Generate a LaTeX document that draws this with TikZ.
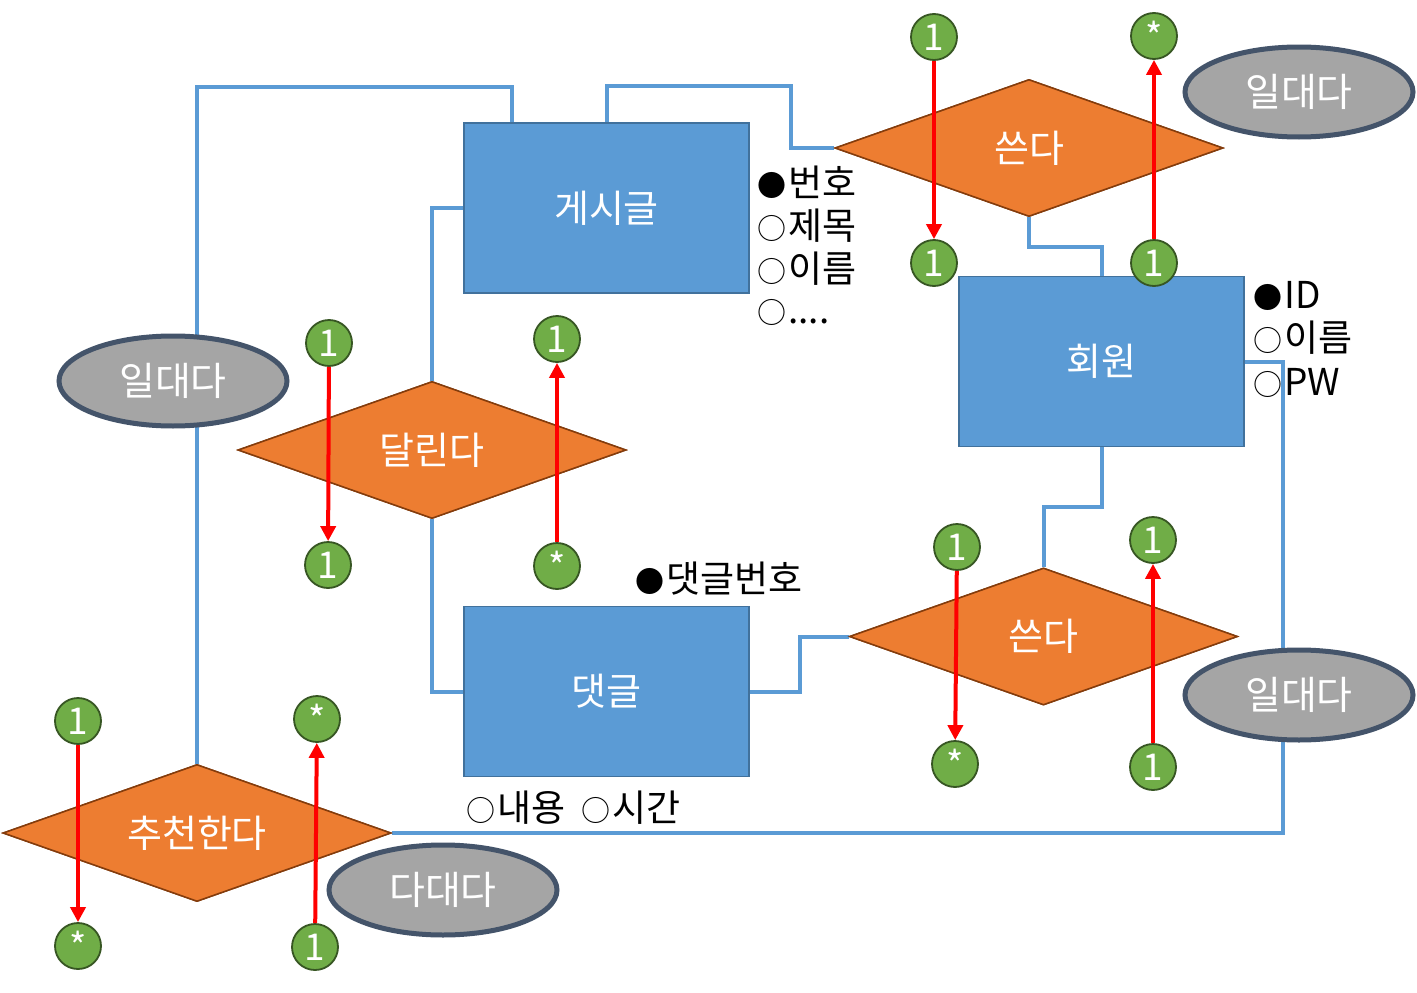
\documentclass[tikz,border=0pt]{standalone}
\usepackage{fontspec}
\setmainfont{Noto Sans CJK KR}
\usetikzlibrary{shapes.geometric,arrows.meta,calc}
\definecolor{boxfill}{HTML}{5B9BD5}
\definecolor{boxline}{HTML}{41719C}
\definecolor{dfill}{HTML}{ED7D31}
\definecolor{dline}{HTML}{843C0C}
\definecolor{efill}{HTML}{A5A5A5}
\definecolor{eline}{HTML}{44546A}
\definecolor{cfill}{HTML}{70AD47}
\definecolor{cline}{HTML}{375623}
\definecolor{connc}{HTML}{5B9BD5}
\newcommand{\mybul}[1]{{\fontsize{29}{43}\selectfont #1}\kern2pt}
\tikzset{
  entity/.style={draw=boxline, fill=boxfill, line width=1.5pt, minimum width=285pt, minimum height=170pt, inner sep=0pt, text=white, font=\fontsize{38}{44}\selectfont},
  rel/.style={diamond, draw=dline, fill=dfill, line width=1.5pt, minimum width=388pt, minimum height=137pt, inner sep=0pt, aspect=2.8, text=white, font=\fontsize{38}{44}\selectfont},
  card/.style={ellipse, draw=eline, fill=efill, line width=5pt, minimum width=228pt, minimum height=90pt, inner sep=0pt, text=white, font=\fontsize{39}{44}\selectfont},
  mult/.style={circle, draw=cline, fill=cfill, line width=1.8pt, minimum size=46pt, inner sep=0pt, text=white, font=\fontsize{37}{40}\selectfont},
  conn/.style={draw=connc, line width=4pt},
  arr/.style={draw=red, line width=4pt, -{Triangle[width=15pt,length=15pt]}},
  attr/.style={anchor=base west, inner sep=0pt, font=\fontsize{37}{43}\selectfont}
}
\begin{document}
\begin{tikzpicture}[x=1pt,y=-1pt]
\useasboundingbox[fill=white] (0,0) rectangle (1417,993);
\coordinate (postA) at (512,123);
\node[entity] (post) at (606.5,208) {게시글};
\node[entity] (reply) at (606.5,691.5) {댓글};
\node[entity] (member) at (1101.5,361.5) {회원};
\node[rel] (write1) at (1029,148) {쓴다};
\node[rel] (write2) at (1043.5,636.5) {쓴다};
\node[rel] (dal) at (432,450) {달린다};
\node[rel] (rec) at (197,833) {추천한다};
% connectors
\draw[conn] (postA) -- ++(0,-36) -| (rec.north);
\draw[conn] (post.north) -- ++(0,-36) -| ([xshift=-43pt]write1.west) -- (write1.west);
\draw[conn] (write1.south) -- ++(0,30) -| (member.north);
\draw[conn] (post.west) -| (dal.north);
\draw[conn] (dal.south) |- (reply.west);
\draw[conn] (reply.east) -- ++(50,0) |- (write2.west);
\draw[conn] (write2.north) -- ++(0,-60) -| (member.south);
\draw[conn] (member.east) -- ++(38,0) |- (rec.east);
% shapes redrawn on top of the connectors
\node[entity] at (post) {게시글};
\node[entity] at (reply) {댓글};
\node[entity] at (member) {회원};
\node[rel] at (write1) {쓴다};
\node[rel] at (write2) {쓴다};
\node[rel] at (dal) {달린다};
\node[rel] at (rec) {추천한다};
% cardinality ellipses
\node[card] (e1) at (1299,92) {일대다};
\node[card] (e2) at (173,381) {일대다};
\node[card] (e3) at (1299,695) {일대다};
\node[card] (e4) at (443,890) {다대다};
% multiplicity circles
\node[mult] (a1) at (934,37) {1};
\node[mult] (a2) at (934,263) {1};
\node[mult] (b1) at (1154,36) {*};
\node[mult] (b2) at (1154,263) {1};
\node[mult] (d1) at (329,343) {1};
\node[mult] (d2) at (328,565) {1};
\node[mult] (f1) at (557,339) {1};
\node[mult] (f2) at (557,566) {*};
\node[mult] (g1) at (957,547) {1};
\node[mult] (g2) at (955,764) {*};
\node[mult] (h1) at (1153,540) {1};
\node[mult] (h2) at (1153,767) {1};
\node[mult] (k1) at (78,721) {1};
\node[mult] (k2) at (78,946) {*};
\node[mult] (m1) at (317,719) {*};
\node[mult] (m2) at (315,947) {1};
% arrows
\draw[arr] (a1) -- (a2);
\draw[arr] (b2) -- (b1);
\draw[arr] (d1) -- (d2);
\draw[arr] (f2) -- (f1);
\draw[arr] (g1) -- (g2);
\draw[arr] (h2) -- (h1);
\draw[arr] (k1) -- (k2);
\draw[arr] (m2) -- (m1);
% attributes
\node[attr] (p1) at (757,196) {\mybul{●}번호};
\node[attr] (p2) at (757,239) {\mybul{○}제목};
\node[attr] (p3) at (757,282) {\mybul{○}이름};
\node[attr] (p4) at (757,323) {\mybul{○}....};
\node[attr] (m1t) at (1253,308) {\mybul{●}ID};
\node[attr] (m2t) at (1253,351) {\mybul{○}이름};
\node[attr] (m3t) at (1253,395) {\mybul{○}PW};
\node[attr] (r1) at (635,592) {\mybul{●}댓글번호};
\node[attr] (r2) at (466,821) {\mybul{○}내용\hspace{16pt}\mybul{○}시간};
\end{tikzpicture}
\end{document}
